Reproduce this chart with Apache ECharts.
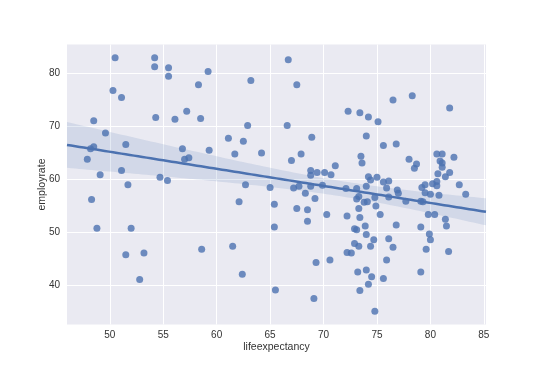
<!DOCTYPE html>
<html><head><meta charset="utf-8">
<script src="https://cdn.jsdelivr.net/npm/echarts@6/dist/echarts.min.js"></script>
<style>html,body{margin:0;padding:0;background:#fff}#c{width:540px;height:371px}</style>
</head><body><div id="c"></div>
<script>
const lifeExpectancy = [
50.5,54.2,54.2,55.5,55.5,59.2,50.3,51.1,58.3,57.2,54.3,56.1,58.5,48.5,49.6,51.5,48.5,48.2,56.8,59.3,47.9,57.0,57.4,49.1,51.1,54.7,55.4,51.7,
48.3,48.8,52.0,51.5,53.2,58.6,52.8,
63.2,66.7,67.5,72.3,62.9,66.6,61.1,62.5,68.9,61.7,64.2,67.0,67.9,71.1,68.8,68.8,69.4,70.1,70.7,62.7,65.0,67.2,67.7,68.8,69.9,72.1,
68.3,69.2,62.1,65.4,67.5,68.5,70.3,72.2,68.5,65.4,61.5,72.2,70.6,69.3,62.4,65.5,69.1,
76.5,78.3,81.8,73.4,74.2,75.1,74.0,75.6,76.8,73.5,73.6,78.0,78.7,78.5,80.6,81.1,82.2,80.9,81.1,81.1,80.7,81.8,81.4,74.2,74.4,75.0,75.6,76.1,74.0,75.9,76.9,79.2,79.5,80.2,80.6,80.6,82.7,73.1,
77.0,79.5,80.0,80.8,83.3,73.3,73.1,73.8,74.1,74.8,74.9,76.1,77.7,79.1,79.3,73.3,75.3,79.8,80.4,73.4,81.4,81.5,73.9,76.8,79.1,72.9,73.1,74.0,79.9,80.0,74.7,76.1,72.9,73.3,74.4,76.5,79.6,72.6,81.7,75.9,73.2,74.0,74.5,75.6,79.1,74.2,73.4,74.8
];
const employRate = [
83.0,83.0,81.3,81.1,79.5,80.4,76.8,75.5,77.9,72.9,71.7,71.4,71.5,71.1,68.8,66.6,66.2,65.8,65.8,65.5,63.8,63.8,64.1,60.9,61.7,60.4,59.8,59.0,
56.2,50.8,50.8,45.8,46.1,46.8,41.1,
78.7,82.6,77.9,72.9,70.2,70.2,67.8,67.2,68.0,64.8,65.0,63.6,64.8,62.6,61.7,60.8,61.3,61.3,60.9,59.0,58.5,58.4,58.7,58.7,58.9,58.3,
57.4,56.4,55.8,55.3,54.5,54.3,53.4,53.1,52.1,51.0,47.4,46.2,44.8,44.3,42.1,39.1,37.5,
75.0,75.8,73.5,72.6,71.8,70.9,68.2,66.4,66.7,64.4,63.1,63.8,62.9,62.1,64.8,64.8,64.2,63.5,63.1,62.3,61.1,61.3,60.5,60.5,59.9,60.4,59.5,59.7,58.7,58.4,58.0,58.5,59.0,59.2,59.6,58.8,59.0,58.3,
57.4,57.5,57.2,57.0,57.2,56.8,56.3,55.7,55.8,56.6,55.0,56.7,55.9,55.9,55.8,54.5,53.4,53.4,53.4,52.8,52.5,51.2,51.2,51.4,51.0,50.7,50.5,49.6,49.7,48.6,48.6,48.8,47.9,47.4,47.4,47.2,46.8,46.1,46.4,44.8,42.5,42.9,41.6,41.3,42.5,40.2,39.0,35.1
];
const xTicks = [50,55,60,65,70,75,80,85];
const yTicks = [40,50,60,70,80];
const xLabel = 'lifeexpectancy';
const yLabel = 'employrate';

const xMin = 46.0, xMax = 85.2, yMin = 32.6, yMax = 85.5;

// OLS fit with a 95% confidence band using a heteroscedasticity-robust
// (sandwich) variance, which approximates seaborn's bootstrap band
const n = lifeExpectancy.length;
const points = lifeExpectancy.map((x, i) => [x, employRate[i]]);
let mx = 0, my = 0;
for (let i = 0; i < n; i++) { mx += lifeExpectancy[i]; my += employRate[i]; }
mx /= n; my /= n;
let sxx = 0, sxy = 0;
for (let i = 0; i < n; i++) { sxx += (lifeExpectancy[i]-mx)**2; sxy += (lifeExpectancy[i]-mx)*(employRate[i]-my); }
const b = sxy / sxx, a = my - b * mx;
let m00 = 0, m01 = 0, m11 = 0;
for (let i = 0; i < n; i++) {
  const e2 = (employRate[i] - (a + b*lifeExpectancy[i]))**2;
  const xc = lifeExpectancy[i] - mx;
  m00 += e2; m01 += e2*xc; m11 += e2*xc*xc;
}
const hc = n / (n - 2);
const zval = 1.96;
const fitLine = [], bandUpper = [], bandLower = [];
const steps = 100;
for (let k = 0; k <= steps; k++) {
  const x = xMin + (xMax - xMin) * k / steps;
  const y = a + b * x;
  const d = x - mx;
  const v = hc * (m00/(n*n) + 2*d*m01/(n*sxx) + d*d*m11/(sxx*sxx));
  const se = Math.sqrt(v);
  fitLine.push([x, y]);
  bandUpper.push([x, y + zval*se]);
  bandLower.push([x, y - zval*se]);
}

const chart = echarts.init(document.getElementById('c'), null, {renderer: 'canvas'});
const labelStyle = {color: '#333', fontFamily: 'Liberation Sans, Arial, sans-serif', fontSize: 10};
chart.setOption({
  animation: false,
  backgroundColor: '#fff',
  grid: {left: 67, right: 54, top: 44.5, bottom: 46.5, show: true, backgroundColor: '#EAEAF2', borderWidth: 0},
  xAxis: {
    type: 'value', min: xMin, max: xMax,
    name: xLabel, nameLocation: 'middle', nameGap: 17, nameMoveOverlap: false,
    nameTextStyle: Object.assign({}, labelStyle, {fontSize: 10.5}),
    axisLine: {show: false}, axisTick: {show: false, customValues: xTicks},
    axisLabel: Object.assign({}, labelStyle, {margin: 6, customValues: xTicks}),
    splitLine: {show: true, lineStyle: {color: '#fff', width: 1}}
  },
  yAxis: {
    type: 'value', min: yMin, max: yMax,
    name: yLabel, nameLocation: 'middle', nameGap: 19, nameMoveOverlap: false,
    nameTextStyle: Object.assign({}, labelStyle, {fontSize: 10.5}),
    axisLine: {show: false}, axisTick: {show: false, customValues: yTicks},
    axisLabel: Object.assign({}, labelStyle, {margin: 7, customValues: yTicks}),
    splitLine: {show: true, lineStyle: {color: '#fff', width: 1}}
  },
  series: [
    {
      type: 'scatter', data: points, symbolSize: 7, z: 2,
      itemStyle: {color: '#4C72B0', opacity: 0.8}
    },
    {
      type: 'custom', z: 3, clip: true,
      data: [[xMin, yMin]],
      renderItem: function (params, api) {
        const pts = bandUpper.map(p => api.coord(p)).concat(bandLower.slice().reverse().map(p => api.coord(p)));
        return {type: 'polygon', shape: {points: pts}, style: {fill: 'rgba(76,114,176,0.15)', stroke: null}};
      }
    },
    {
      type: 'line', data: fitLine, showSymbol: false, z: 4,
      lineStyle: {color: '#4C72B0', width: 2.5}
    }
  ]
});
</script>
</body></html>
